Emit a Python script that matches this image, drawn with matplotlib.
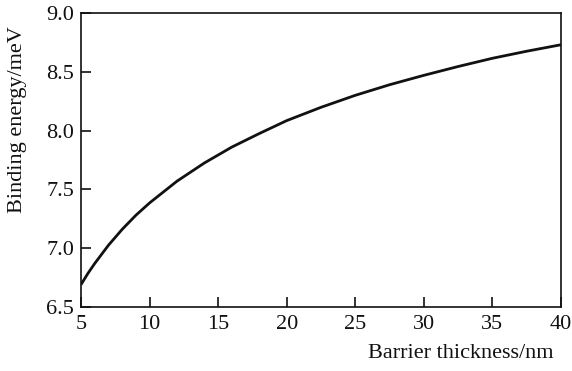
import matplotlib
matplotlib.use("Agg")
import matplotlib.pyplot as plt

# curve
thickness = [5, 5.5, 6, 7, 8, 9, 10, 12, 14, 16, 18, 20, 22.5, 25, 27.5, 30,
             32.5, 35, 37.5, 40]
energy = [6.69, 6.785, 6.87, 7.025, 7.16, 7.28, 7.385, 7.57, 7.725, 7.86, 7.975,
          8.085, 8.198, 8.30, 8.39, 8.47, 8.545, 8.615, 8.675, 8.73]
xticks = [5, 10, 15, 20, 25, 30, 35, 40]
yticks = [6.5, 7.0, 7.5, 8.0, 8.5, 9.0]

plt.rcParams['font.family'] = ['Liberation Serif', 'DejaVu Serif']

fig = plt.figure(figsize=(5.72, 3.71), dpi=100)
ax = fig.add_axes([81 / 572, 1 - 307 / 371, 480 / 572, 294 / 371])
ax.plot(thickness, energy, color='#111111', linewidth=2.0,
        solid_joinstyle='round', solid_capstyle='butt')

ax.set_xlim(5, 40)
ax.set_ylim(6.5, 9.0)
ax.set_xticks(xticks)
ax.set_yticks(yticks)
ax.set_yticklabels(['%.1f' % v for v in yticks])
ax.tick_params(direction='in', length=7, width=1.2, labelsize=16, colors='#111111',
               top=False, right=False)
ax.tick_params(axis='x', pad=6)
ax.tick_params(axis='y', pad=5)
for s in ax.spines.values():
    s.set_linewidth(1.2)
    s.set_color('#111111')

fig.text(554 / 572, 1 - 354 / 371, 'Barrier thickness/nm', ha='right', va='center',
         fontsize=16, color='#111111')
fig.text(18 / 572, 1 - 120 / 371, 'Binding energy/meV', ha='center', va='center',
         rotation=90, fontsize=16, color='#111111')

plt.savefig("out.png", dpi=100)
